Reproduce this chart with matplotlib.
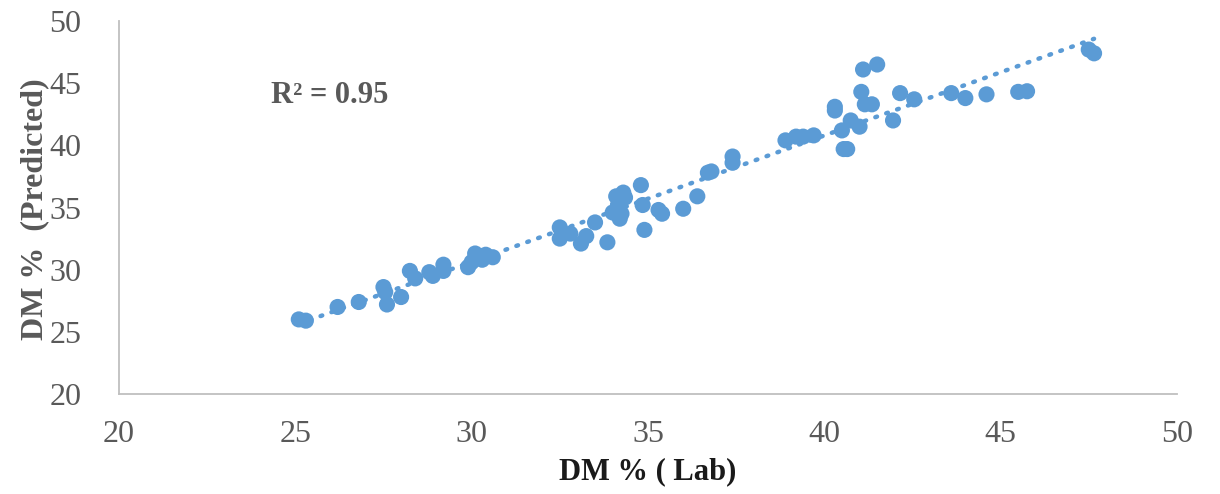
import numpy as np
import matplotlib.pyplot as plt

# DM % measured in the lab vs. DM % predicted by the model
dm_lab = [25.1, 25.3, 26.2, 26.8, 27.5, 27.55, 27.6, 28.0, 28.25, 28.4,
          28.8, 28.9, 29.2, 29.2, 29.9, 30.0, 30.1, 30.3, 30.4, 30.6,
          32.5, 32.5, 32.8, 33.1, 33.25, 33.5, 33.85, 34.0, 34.15, 34.2,
          34.3, 34.35, 34.1, 34.25, 34.8, 34.85, 34.9, 35.3, 35.4, 36.0,
          36.4, 36.7, 36.8, 37.4, 37.4, 38.9, 39.2, 39.4, 39.7, 40.3,
          40.3, 40.5, 40.55, 40.65, 40.75, 41.0, 41.05, 41.1, 41.15, 41.35,
          41.5, 41.95, 42.15, 42.55, 43.6, 44.0, 44.6, 45.5, 45.75, 47.5,
          47.65]
dm_pred = [26.0, 25.9, 27.0, 27.4, 28.6, 28.2, 27.2, 27.8, 29.9, 29.3,
           29.8, 29.5, 30.4, 29.9, 30.2, 30.6, 31.3, 30.8, 31.2, 31.0,
           33.4, 32.5, 32.9, 32.1, 32.7, 33.8, 32.2, 34.6, 35.2, 34.1,
           36.2, 35.8, 35.9, 34.5, 36.8, 35.2, 33.2, 34.8, 34.5, 34.9,
           35.9, 37.8, 37.9, 39.1, 38.6, 40.4, 40.7, 40.7, 40.8, 42.8,
           43.1, 41.2, 39.7, 39.7, 42.0, 41.5, 44.3, 46.1, 43.3, 43.3,
           46.5, 42.0, 44.2, 43.7, 44.2, 43.8, 44.1, 44.3, 44.35, 47.7,
           47.4]
r2_text = "R² = 0.95"

blue = "#5B9BD5"
grey = "#595959"

plt.rcParams['font.family'] = ['Liberation Serif', 'DejaVu Serif']

fig = plt.figure(figsize=(12.2, 4.94), dpi=100)
ax = fig.add_axes([0.0975, 0.2024, 0.8672, 0.7551])

ax.scatter(dm_lab, dm_pred, s=135, color=blue, edgecolors='none', zorder=3)

# linear trendline over the data range
m, b = np.polyfit(dm_lab, dm_pred, 1)
xs = np.array([min(dm_lab), max(dm_lab)])
ax.plot(xs, m * xs + b, color=blue, linewidth=3.2,
        linestyle=(0, (0.4, 2.2)), dash_capstyle='round', zorder=4)

ax.text(24.3, 44.0, r2_text, fontsize=22, fontweight='bold', color=grey,
        ha='left', va='center')

ax.set_xlim(20, 50)
ax.set_ylim(20, 50)
ax.set_xticks(range(20, 51, 5))
ax.set_yticks(range(20, 51, 5))
ax.tick_params(length=0, labelsize=23, labelcolor=grey)
ax.tick_params(axis='y', pad=27)
ax.tick_params(axis='x', pad=19)

for side in ['top', 'right']:
    ax.spines[side].set_visible(False)
for side in ['left', 'bottom']:
    ax.spines[side].set_color('#BFBFBF')
    ax.spines[side].set_linewidth(1.3)

ax.set_xlabel("DM % ( Lab)", fontsize=22, fontweight='bold', color='#1a1a1a',
              va='center')
ax.set_ylabel("DM %  (Predicted)", fontsize=23, fontweight='bold', color=grey)
ax.xaxis.set_label_coords(0.5, -0.209)
ax.yaxis.set_label_coords(-0.066, 0.495)

fig.savefig("out.png", dpi=100)
